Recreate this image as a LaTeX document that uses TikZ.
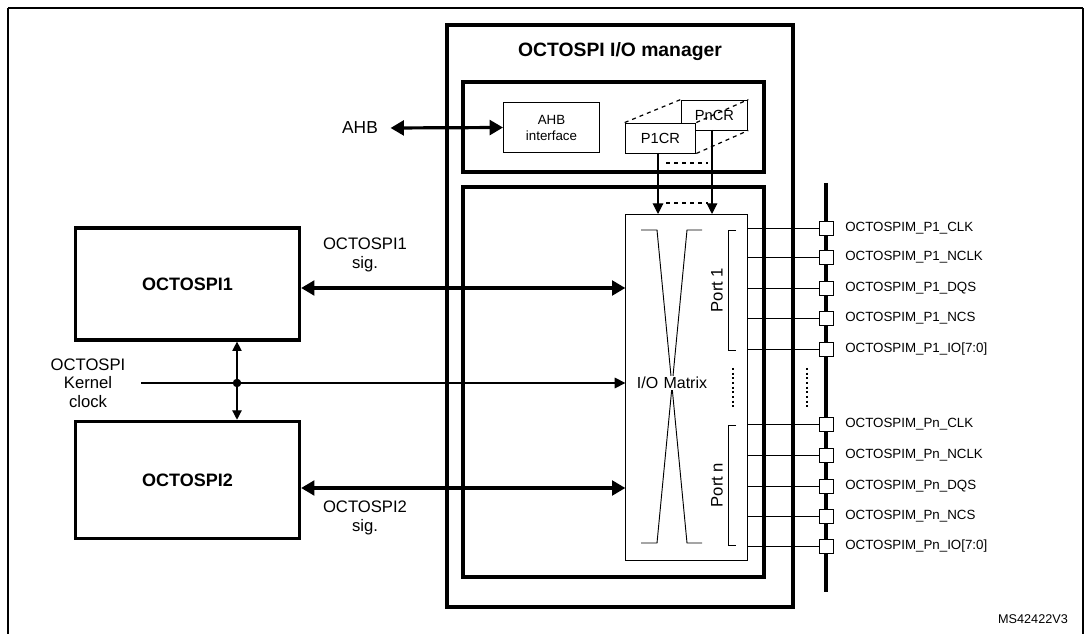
\documentclass[tikz,border=0pt]{standalone}
\usepackage{fontspec}
\setmainfont{Liberation Sans}
\usetikzlibrary{arrows.meta}
\begin{document}
\begin{tikzpicture}[x=0.75pt,y=-0.75pt,
 thick line/.style={line width=2.4pt},
 box/.style={draw,line width=0.7pt},
 bigarrow/.style={line width=2.4pt,{Triangle[length=10pt,width=11pt]}-{Triangle[length=10pt,width=11pt]}},
 lab/.style={font=\fontsize{12.5}{14}\selectfont,align=center},
 sig/.style={font=\fontsize{10}{12}\selectfont,anchor=west,inner sep=0pt},
 pad/.style={draw,fill=white,line width=0.7pt,minimum size=10.5pt,inner sep=0pt}]
\useasboundingbox (0,0) rectangle (1089,634);
% outer frame
\draw[line width=0.8pt] (8,8) -- (1083,8);
\draw[line width=0.8pt] (8,8) -- (8,634) (1083,8) -- (1083,634);
% manager
\draw[thick line] (447,25) rectangle (793,607);
\node[font=\bfseries\fontsize{14.5}{16}\selectfont] (title) at (620,52) {OCTOSPI I/O manager};
\draw[thick line] (463,82) rectangle (764,172);
\draw[thick line] (463,187) rectangle (764,577);
\node[box,minimum width=72pt,minimum height=38pt,align=center,font=\fontsize{10}{12}\selectfont] (ahbi) at (551.5,127.5) {AHB\\interface};
\node[box,fill=white,minimum width=50pt,minimum height=22.5pt,font=\fontsize{11}{12}\selectfont] (pn) at (714.5,115) {PnCR};
\node[box,fill=white,minimum width=53pt,minimum height=22.5pt,font=\fontsize{11}{12}\selectfont] (p1) at (660.5,138) {P1CR};
\draw[dashed,line width=0.9pt] (p1.north west) -- (pn.north west) (p1.north east) -- (pn.north east) (p1.south east) -- (pn.south east);
\node[font=\fontsize{13}{15}\selectfont] (ahb) at (360,128) {AHB};
\draw[bigarrow] (ahb.east) ++(8,0) coordinate (ahbl) -- (ahbi.west);
% matrix
\node[box,minimum width=91pt,minimum height=259.5pt] (mx) at (686.5,387) {};
\draw[-{Triangle[length=8pt,width=8pt]},line width=0.8pt] (658,153) -- (658,214);
\draw[-{Triangle[length=8pt,width=8pt]},line width=0.8pt] (712,130) -- (712,214);
\draw[dashed,line width=0.9pt] (666,163) -- (708,163) (666,203) -- (708,203);
\draw[line width=0.7pt] (641,230) -- (657,230) -- (687,543) -- (702,543);
\draw[line width=0.7pt] (641,543) -- (657,543) -- (687,230) -- (702,230);
\node[fill=white,inner sep=1pt,font=\fontsize{12}{14}\selectfont] (iom) at (672,383) {I/O\,\,Matrix};
\draw[line width=0.7pt] (736,230) -- (728,230) -- (728,350) -- (736,350);
\draw[line width=0.7pt] (736,425) -- (728,425) -- (728,545) -- (736,545);
\node[rotate=90,font=\fontsize{12.5}{14}\selectfont] (p1l) at (717,290) {Port 1};
\node[rotate=90,font=\fontsize{12.5}{14}\selectfont] (pnl) at (717,485) {Port n};
\draw[dotted,line width=1.5pt] (733,368) -- (733,410) (807,368) -- (807,410);
% bus
\draw[line width=2.8pt] (826,183) -- (826,592);
\foreach \y/\t [count=\i] in {228/P1\_CLK,257/P1\_NCLK,288/P1\_DQS,318/P1\_NCS,349/P1\_IO[7:0],424/Pn\_CLK,455/Pn\_NCLK,486/Pn\_DQS,516/Pn\_NCS,546/Pn\_IO[7:0]}{
 \draw[line width=0.7pt] (747,\y) -- (826,\y);
 \node[pad] (q\i) at (826,\y) {};
 \node[sig] (s\i) at (845,\y) {OCTOSPIM\_\t};
}
% OCTOSPI blocks
\node[thick line,draw,minimum width=168pt,minimum height=84pt,font=\bfseries\fontsize{13.5}{15}\selectfont] (o1) at (187.5,284) {OCTOSPI1};
\node[thick line,draw,minimum width=168pt,minimum height=88pt,font=\bfseries\fontsize{13.5}{15}\selectfont] (o2) at (187.5,480) {OCTOSPI2};
\draw[bigarrow] (o1.east |- 0,288) -- (mx.west |- 0,288);
\draw[bigarrow] (o2.east |- 0,488) -- (mx.west |- 0,488);
\node[lab] (l1) at (365,255) {OCTOSPI1\\sig.};
\node[lab] (l2) at (365,518) {OCTOSPI2\\sig.};
\node[lab] (kc) at (88,383) {OCTOSPI\\Kernel\\clock};
\coordinate (kst) at (141,383);
\draw[-{Triangle[length=8pt,width=8pt]},line width=0.8pt] (kst) -- (mx.west |- 0,383);
\fill (237,383) circle (3.2pt) coordinate (dot);
\draw[line width=0.9pt,{Triangle[length=7pt,width=7pt]}-{Triangle[length=7pt,width=7pt]}] (o1.south -| dot) -- (o2.north -| dot);
\node[font=\fontsize{9.5}{11}\selectfont] (ms) at (1033,619) {MS42422V3};
\end{tikzpicture}
\end{document}
